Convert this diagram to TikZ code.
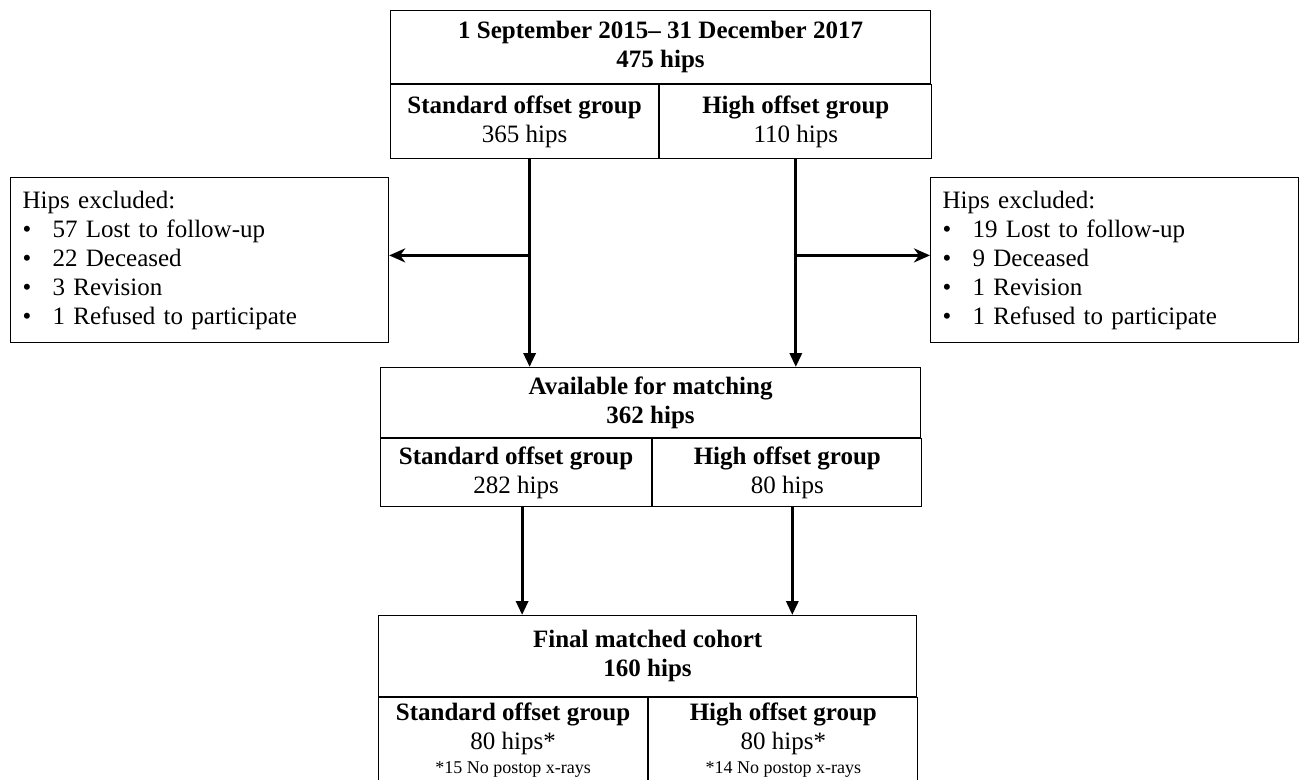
\documentclass[tikz,border=0pt]{standalone}
\usepackage{fontspec}
\setmainfont{Liberation Serif}
\usetikzlibrary{positioning,arrows.meta,calc}

\newcommand{\bodyfont}{\fontsize{12.5}{14.5}\selectfont}
\newcommand{\notefont}{\fontsize{9}{11}\selectfont}
\tikzset{
  box/.style={draw, line width=0.6pt, inner sep=0pt, align=center, font=\bodyfont},
  head/.style={box, font=\bodyfont\bfseries},
  flow/.style={line width=1.6pt, -{Triangle[length=7pt,width=6pt]}},
  side/.style={line width=1.6pt, -{Stealth[length=8pt,width=7pt,inset=2.5pt]}},
  excl/.style={box, align=left, anchor=north west, minimum height=82.5pt, inner xsep=6pt}
}
\newcommand{\itm}[1]{\makebox[15pt][l]{\textbullet}#1}

\begin{document}
\begin{tikzpicture}[x=0.5pt, y=-0.5pt]
  \useasboundingbox (0,0) rectangle (1309,781);
  \clip (0,0) rectangle (1309,779);

  % recruitment
  \node[head, anchor=north west, minimum width=270pt, minimum height=36.5pt] (period) at (390,10)
    {1 September 2015– 31 December 2017\\475 hips};
  \node[box, anchor=north west, minimum width=134pt, minimum height=37pt] (stdA) at (period.south west)
    {\textbf{Standard offset group}\\365 hips};
  \node[box, anchor=north west, minimum width=136pt, minimum height=37pt] (highA) at (stdA.north east)
    {\textbf{High offset group}\\110 hips};

  % exclusions
  \node[excl, text width=177pt] (exclL) at (10,177)
    {Hips excluded:\\\itm{57 Lost to follow-up}\\\itm{22 Deceased}\\\itm{3 Revision}\\\itm{1 Refused to participate}};
  \node[excl, text width=172pt] (exclR) at (930,177)
    {Hips excluded:\\\itm{19 Lost to follow-up}\\\itm{9 Deceased}\\\itm{1 Revision}\\\itm{1 Refused to participate}};

  % matching
  \node[head, anchor=north west, minimum width=270pt, minimum height=35pt] (avail) at (380,367)
    {Available for matching\\362 hips};
  \node[box, anchor=north west, minimum width=135.5pt, minimum height=34pt] (stdB) at (avail.south west)
    {\textbf{Standard offset group}\\282 hips};
  \node[box, anchor=north west, minimum width=134.5pt, minimum height=34pt] (highB) at (stdB.north east)
    {\textbf{High offset group}\\80 hips};

  % final cohort
  \node[head, anchor=north west, minimum width=269pt, minimum height=40.5pt] (final) at (378,615)
    {Final matched cohort\\160 hips};
  \node[box, anchor=north west, minimum width=134.5pt, minimum height=42pt] (stdC) at (final.south west)
    {\textbf{Standard offset group}\\80 hips*\\[-2.5pt]{\notefont *15 No postop x-rays}};
  \node[box, anchor=north west, minimum width=134.5pt, minimum height=42pt] (highC) at (stdC.north east)
    {\textbf{High offset group}\\80 hips*\\[-2.5pt]{\notefont *14 No postop x-rays}};

  % connectors
  \draw[flow] ([xshift=2.5pt]stdA.south) -- ([xshift=2.5pt]stdA.south |- avail.north);
  \draw[flow] (highA.south) -- (highA.south |- avail.north);
  \coordinate (splitL) at ($(stdA.south)+(5,96)$);
  \coordinate (splitR) at ($(highA.south)+(-1,96)$);
  \draw[side] (splitL) -- (splitL -| exclL.east);
  \draw[side] (splitR) -- (splitR -| exclR.west);
  \draw[flow] ([xshift=3pt]stdB.south) -- ([xshift=3pt]stdB.south |- final.north);
  \draw[flow] ([xshift=2.5pt]highB.south) -- ([xshift=2.5pt]highB.south |- final.north);
\end{tikzpicture}
\end{document}
